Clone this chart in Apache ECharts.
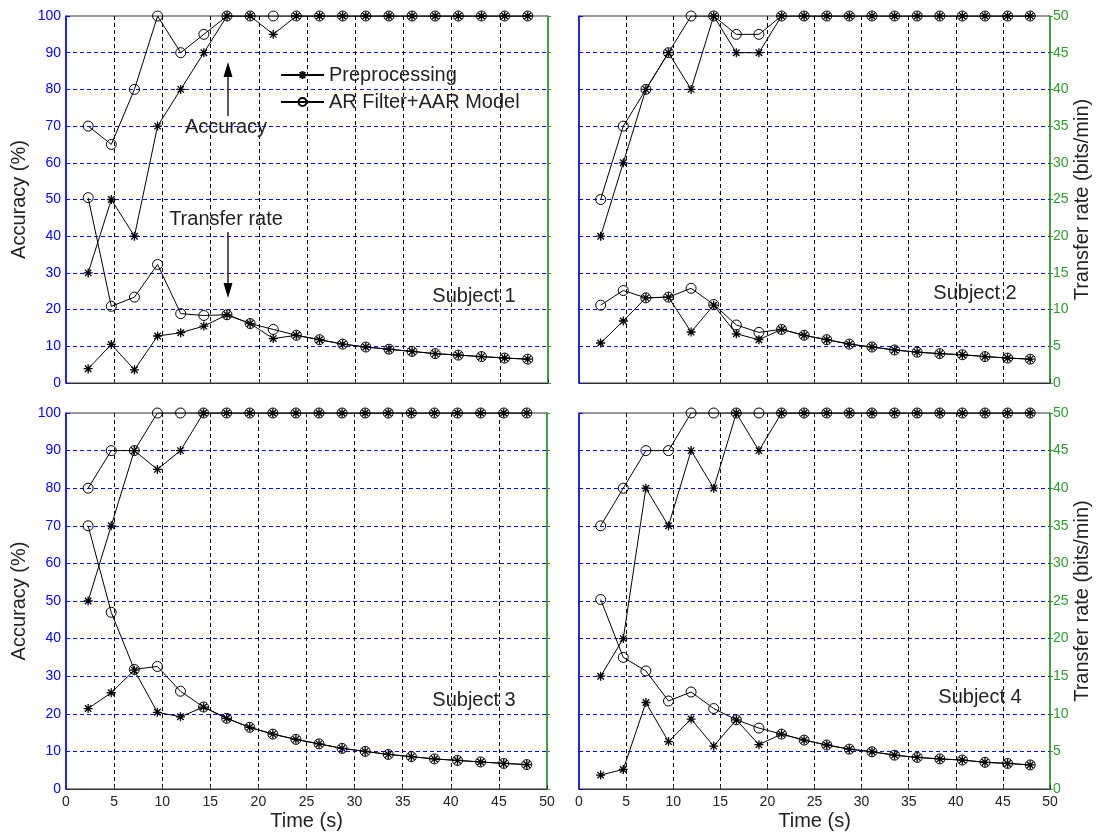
<!DOCTYPE html>
<html>
<head>
<meta charset="utf-8">
<script src="https://cdn.jsdelivr.net/npm/echarts@6/dist/echarts.min.js"></script>
<style>
html,body{margin:0;padding:0;background:#fff;}
#chart{width:1098px;height:835px;}
</style>
</head>
<body>
<div id="chart"></div>
<script>
// ---- data ----
const timeS = [2.3, 4.7, 7.1, 9.5, 11.9, 14.3, 16.7, 19.1, 21.5, 23.9, 26.3, 28.7, 31.1, 33.5, 35.9, 38.3, 40.7, 43.1, 45.5, 47.9];
const xTicks = [0, 5, 10, 15, 20, 25, 30, 35, 40, 45, 50];
const accTicks = [0, 10, 20, 30, 40, 50, 60, 70, 80, 90, 100];
const rateTicks = [0, 5, 10, 15, 20, 25, 30, 35, 40, 45, 50];
const seriesNames = ['Preprocessing', 'AR Filter+AAR Model'];
const subjects = ['Subject 1', 'Subject 2', 'Subject 3', 'Subject 4'];

const s1AccPre = [30, 50, 40, 70, 80, 90, 100, 100, 95, 100, 100, 100, 100, 100, 100, 100, 100, 100, 100, 100];
const s1AccAR  = [70, 65, 80, 100, 90, 95, 100, 100, 100, 100, 100, 100, 100, 100, 100, 100, 100, 100, 100, 100];
const s1RatePre = [1.95, 5.25, 1.8, 6.4, 6.85, 7.75, 9.3, 8.1, 6.05, 6.5, 5.9, 5.3, 4.9, 4.6, 4.3, 4.0, 3.8, 3.6, 3.4, 3.25];
const s1RateAR  = [25.25, 10.45, 11.7, 16.15, 9.45, 9.2, 9.3, 8.1, 7.3, 6.5, 5.9, 5.3, 4.9, 4.6, 4.3, 4.0, 3.8, 3.6, 3.4, 3.25];

const s2AccPre = [40, 60, 80, 90, 80, 100, 90, 90, 100, 100, 100, 100, 100, 100, 100, 100, 100, 100, 100, 100];
const s2AccAR  = [50, 70, 80, 90, 100, 100, 95, 95, 100, 100, 100, 100, 100, 100, 100, 100, 100, 100, 100, 100];
const s2RatePre = [5.45, 8.45, 11.6, 11.7, 6.95, 10.6, 6.7, 5.9, 7.3, 6.5, 5.9, 5.3, 4.9, 4.5, 4.2, 4.0, 3.85, 3.6, 3.4, 3.25];
const s2RateAR  = [10.6, 12.6, 11.6, 11.7, 12.9, 10.7, 7.9, 6.9, 7.3, 6.5, 5.9, 5.3, 4.9, 4.5, 4.2, 4.0, 3.85, 3.6, 3.4, 3.25];

const s3AccPre = [50, 70, 90, 85, 90, 100, 100, 100, 100, 100, 100, 100, 100, 100, 100, 100, 100, 100, 100, 100];
const s3AccAR  = [80, 90, 90, 100, 100, 100, 100, 100, 100, 100, 100, 100, 100, 100, 100, 100, 100, 100, 100, 100];
const s3RatePre = [10.7, 12.8, 15.8, 10.2, 9.6, 10.9, 9.4, 8.2, 7.3, 6.6, 6.0, 5.4, 5.0, 4.6, 4.3, 4.0, 3.8, 3.6, 3.4, 3.25];
const s3RateAR  = [35, 23.5, 15.9, 16.3, 13.0, 10.9, 9.4, 8.2, 7.3, 6.6, 6.0, 5.4, 5.0, 4.6, 4.3, 4.0, 3.8, 3.6, 3.4, 3.25];

const s4AccPre = [30, 40, 80, 70, 90, 80, 100, 90, 100, 100, 100, 100, 100, 100, 100, 100, 100, 100, 100, 100];
const s4AccAR  = [70, 80, 90, 90, 100, 100, 100, 100, 100, 100, 100, 100, 100, 100, 100, 100, 100, 100, 100, 100];
const s4RatePre = [1.85, 2.6, 11.5, 6.3, 9.3, 5.7, 9.2, 5.9, 7.3, 6.5, 5.85, 5.3, 4.95, 4.5, 4.2, 4.0, 3.85, 3.55, 3.4, 3.2];
const s4RateAR  = [25.2, 17.5, 15.7, 11.7, 12.9, 10.7, 9.2, 8.1, 7.3, 6.5, 5.85, 5.3, 4.95, 4.5, 4.2, 4.0, 3.85, 3.55, 3.4, 3.2];

// ---- chart ----
const FONT = '"Liberation Sans", Arial, Helvetica, sans-serif';
const BLUE = '#0000ff';
const GREEN = '#2e9b2e';
const STAR = 'path://M0,-5L0,5M-5,0L5,0M-3.6,-3.6L3.6,3.6M-3.6,3.6L3.6,-3.6';

const panels = [
  { acc: [s1AccPre, s1AccAR], rate: [s1RatePre, s1RateAR] },
  { acc: [s2AccPre, s2AccAR], rate: [s2RatePre, s2RateAR] },
  { acc: [s3AccPre, s3AccAR], rate: [s3RatePre, s3RateAR] },
  { acc: [s4AccPre, s4AccAR], rate: [s4RatePre, s4RateAR] }
];

const grids = [
  { left: 66, top: 16, width: 482, height: 367 },
  { left: 579, top: 16, width: 471, height: 367 },
  { left: 66, top: 413, width: 481, height: 376 },
  { left: 579, top: 413, width: 471, height: 376 }
].map(g => Object.assign({ show: true, borderColor: '#333', borderWidth: 1, backgroundColor: 'transparent' }, g));

const xAxes = [], yAxes = [], series = [];
panels.forEach((p, i) => {
  const bottom = i >= 2, leftPanel = i % 2 === 0;
  xAxes.push({
    type: 'value', gridIndex: i, min: xTicks[0], max: xTicks[xTicks.length - 1], interval: xTicks[1] - xTicks[0],
    name: bottom ? 'Time (s)' : '', nameLocation: 'middle', nameGap: 22,
    nameTextStyle: { fontFamily: FONT, fontSize: 20, color: '#222' },
    axisLine: { show: true, onZero: false, lineStyle: { color: '#333', width: 1 } },
    axisTick: { show: true, inside: true, length: 4, lineStyle: { color: '#333' } },
    axisLabel: { show: bottom, margin: 6, fontFamily: FONT, fontSize: 14, color: '#222' },
    splitLine: { show: true, showMinLine: false, showMaxLine: false, lineStyle: { color: '#000', width: 1, type: [4, 3] } }
  });
  yAxes.push({
    type: 'value', gridIndex: i, position: 'left', min: accTicks[0], max: accTicks[accTicks.length - 1], interval: accTicks[1] - accTicks[0],
    name: leftPanel ? 'Accuracy (%)' : '', nameLocation: 'middle', nameGap: 37,
    nameTextStyle: { fontFamily: FONT, fontSize: 20, color: '#222' },
    axisLine: { show: true, lineStyle: { color: BLUE, width: 1.5 } },
    axisTick: { show: true, inside: true, length: 4, lineStyle: { color: BLUE } },
    axisLabel: { show: leftPanel, margin: 5, fontFamily: FONT, fontSize: 14, color: BLUE },
    splitLine: { show: true, showMinLine: false, showMaxLine: false, lineStyle: { color: BLUE, width: 1, type: [4, 3] } }
  });
  yAxes.push({
    type: 'value', gridIndex: i, position: 'right', min: rateTicks[0], max: rateTicks[rateTicks.length - 1], interval: rateTicks[1] - rateTicks[0],
    name: leftPanel ? '' : 'Transfer rate (bits/min)', nameLocation: 'middle', nameGap: 21,
    nameTextStyle: { fontFamily: FONT, fontSize: 20, color: '#222' },
    axisLine: { show: true, lineStyle: { color: GREEN, width: 1.5 } },
    axisTick: { show: true, inside: false, length: 3, lineStyle: { color: GREEN } },
    axisLabel: { show: !leftPanel, margin: 3, fontFamily: FONT, fontSize: 14, color: GREEN },
    splitLine: { show: false }
  });
  const mk = (name, yIdx, vals, sym) => ({
    name: name, type: 'line', xAxisIndex: i, yAxisIndex: yIdx,
    data: timeS.map((t, k) => [t, vals[k]]),
    symbol: sym, symbolSize: sym === 'circle' ? 10 : 9, symbolKeepAspect: true, showSymbol: true,
    lineStyle: { color: '#000', width: 1 },
    itemStyle: sym === 'circle'
      ? { color: 'rgba(0,0,0,0)', borderColor: '#000', borderWidth: 1 }
      : { color: '#000', borderColor: '#000', borderWidth: 1.3 },
    emphasis: { disabled: true }, z: 3
  });
  series.push(mk(seriesNames[0], 2 * i, p.acc[0], STAR));
  series.push(mk(seriesNames[1], 2 * i, p.acc[1], 'circle'));
  series.push(mk(seriesNames[0], 2 * i + 1, p.rate[0], STAR));
  series.push(mk(seriesNames[1], 2 * i + 1, p.rate[1], 'circle'));
});

const txt = (x, y, s) => ({ type: 'text', x: x, y: y, z: 10,
  style: { text: s, fontFamily: FONT, fontSize: 20, fill: '#222', align: 'center', verticalAlign: 'middle' } });

const graphic = [
  txt(226, 127, 'Accuracy'),
  { type: 'line', z: 10, shape: { x1: 228, y1: 116, x2: 228, y2: 74 }, style: { stroke: '#000', lineWidth: 1.3 } },
  { type: 'polygon', z: 10, shape: { points: [[228, 62], [223.5, 77], [232.5, 77]] }, style: { fill: '#000' } },
  txt(226, 219, 'Transfer rate'),
  { type: 'line', z: 10, shape: { x1: 228, y1: 232, x2: 228, y2: 286 }, style: { stroke: '#000', lineWidth: 1.3 } },
  { type: 'polygon', z: 10, shape: { points: [[228, 298], [223.5, 283], [232.5, 283]] }, style: { fill: '#000' } },
  txt(474, 296, subjects[0]),
  txt(975, 293, subjects[1]),
  txt(474, 700, subjects[2]),
  txt(980, 697, subjects[3])
];

const chart = echarts.init(document.getElementById('chart'), null, { renderer: 'canvas' });
chart.setOption({
  animation: false,
  backgroundColor: '#fff',
  textStyle: { fontFamily: FONT },
  grid: grids,
  xAxis: xAxes,
  yAxis: yAxes,
  series: series,
  legend: {
    data: seriesNames, left: 275, top: 60, orient: 'vertical',
    itemWidth: 43, itemHeight: 10, itemGap: 7, selectedMode: false,
    textStyle: { fontFamily: FONT, fontSize: 20, color: '#222' }
  },
  graphic: graphic
});
</script>
</body>
</html>
